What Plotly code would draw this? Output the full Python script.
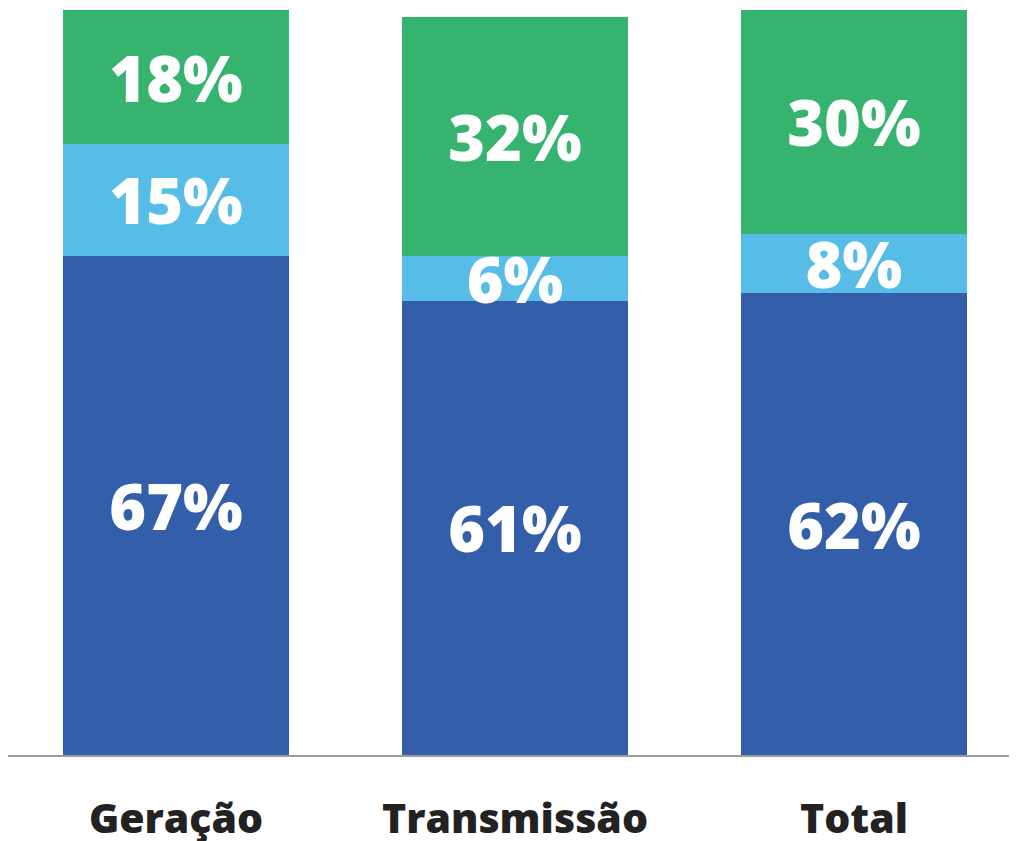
import plotly.graph_objects as go

categories = ["Geração", "Transmissão", "Total"]
bottom_values = [67, 61, 62]
middle_values = [15, 6, 8]
top_values = [18, 32, 30]

COLORS = ["#335EA9", "#57BCE6", "#36B46F"]
FONT = "Open Sans"

fig = go.Figure()
for values, color in zip([bottom_values, middle_values, top_values], COLORS):
    fig.add_trace(
        go.Bar(
            x=categories,
            y=values,
            marker_color=color,
            marker_line_width=0,
            text=[f"{v}%" for v in values],
            textposition="inside",
            insidetextanchor="middle",
            constraintext="none",
            textangle=0,
            textfont=dict(family=FONT, size=63, color="white", weight=800),
            hoverinfo="skip",
        )
    )

# the page body adds an 8px margin, so the figure is sized to fit inside it
fig.update_layout(
    barmode="stack",
    bargap=0.334,
    width=1009,
    height=833,
    margin=dict(l=0, r=0, t=2, b=86),
    paper_bgcolor="white",
    plot_bgcolor="white",
    showlegend=False,
    xaxis=dict(
        range=[-0.4956, 2.481],
        automargin=False,
        showline=True,
        linecolor="#9a9a9a",
        linewidth=2,
        showgrid=False,
        ticks="",
        ticklabelstandoff=27,
        tickfont=dict(family=FONT, size=41, color="#222222", weight=800),
    ),
    yaxis=dict(range=[0, 100], visible=False, showgrid=False),
)

fig.write_html("out.html")
